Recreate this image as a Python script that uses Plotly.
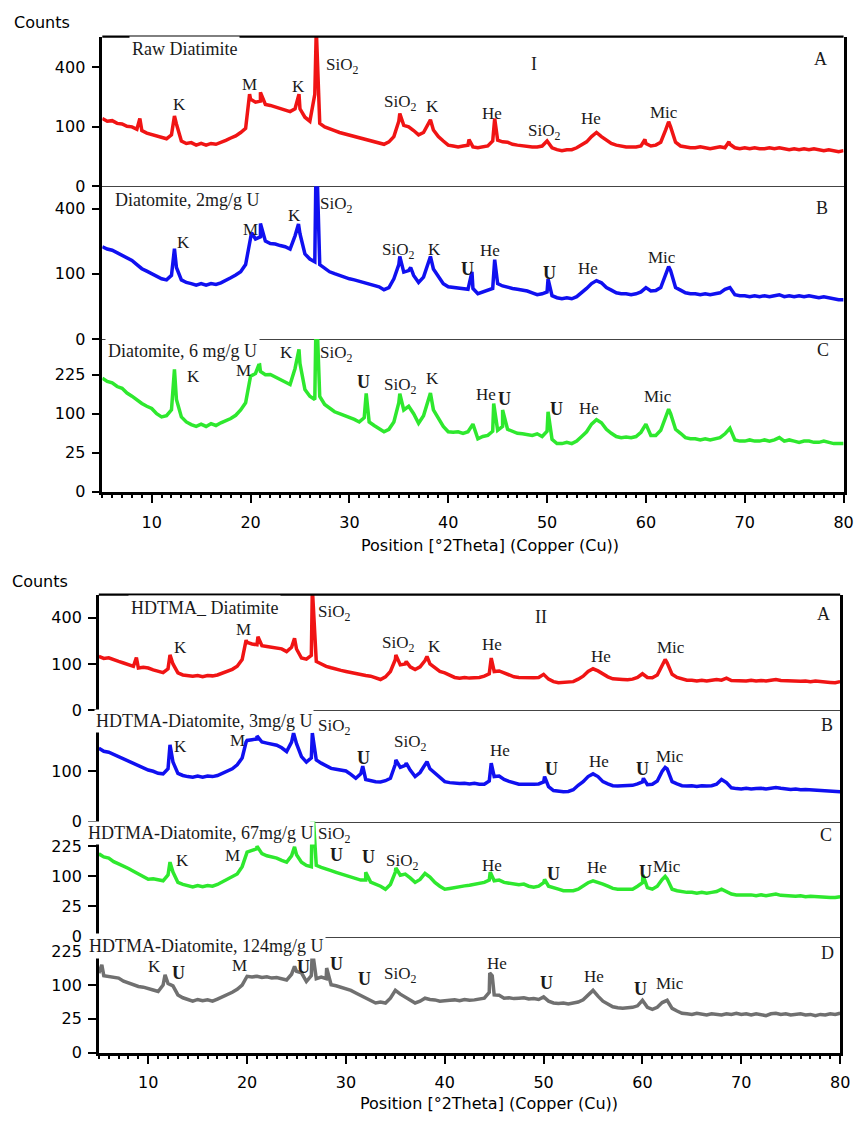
import plotly.graph_objects as go

W, H = 861, 1123

# ---------------- data (counts) ----------------
two_theta = [5 + 0.5 * i for i in range(151)]   # 5 ... 80 deg, 0.5 deg step

raw_diatomite = [
    130, 120, 122, 112, 110, 102, 100, 92, 88, 80,
    76, 70, 68, 64, 75, 110, 58, 52, 54, 48,
    52, 48, 52, 50, 56, 60, 66, 72, 82, 95,
    215, 200, 205, 190, 185, 178, 172, 165, 158, 170,
    170, 135, 120, 240, 112, 100, 95, 88, 82, 78,
    74, 70, 66, 62, 60, 56, 54, 50, 56, 70,
    120, 105, 100, 88, 75, 82, 110, 90, 70, 58,
    48, 46, 44, 46, 48, 44, 42, 44, 46, 58,
    60, 56, 55, 50, 48, 46, 45, 44, 44, 46,
    58, 42, 38, 36, 38, 38, 42, 48, 56, 70,
    82, 70, 60, 52, 48, 45, 44, 44, 44, 46,
    52, 46, 48, 55, 90, 100, 55, 46, 44, 42,
    42, 44, 42, 40, 42, 44, 42, 50, 42, 40,
    42, 40, 42, 40, 40, 42, 40, 42, 40, 38,
    40, 38, 40, 38, 40, 38, 36, 38, 36, 34,
    36]
raw_peak_x = [8.8, 12.3, 19.9, 21.0, 24.9, 26.65, 35.1, 38.2, 42.1, 44.7, 59.9, 62.3, 68.4]
raw_peak_y = [130, 140, 240, 250, 240, 700, 150, 125, 62, 130, 62, 118, 56]

u2_diatomite = [
    200, 190, 185, 175, 167, 155, 145, 130, 116, 108,
    100, 92, 85, 82, 95, 120, 82, 75, 72, 68,
    72, 68, 72, 70, 74, 80, 88, 96, 106, 130,
    240, 235, 245, 225, 214, 212, 205, 200, 190, 250,
    260, 170, 150, 140, 130, 118, 106, 100, 94, 90,
    85, 82, 78, 75, 72, 68, 64, 57, 62, 85,
    130, 105, 110, 95, 75, 90, 140, 115, 90, 72,
    64, 62, 62, 60, 58, 60, 48, 52, 55, 60,
    72, 66, 62, 60, 58, 56, 54, 50, 46, 48,
    52, 44, 40, 38, 40, 38, 42, 50, 60, 72,
    80, 74, 62, 56, 50, 48, 48, 46, 48, 52,
    62, 54, 55, 62, 100, 110, 62, 56, 50, 48,
    48, 46, 48, 46, 48, 50, 58, 62, 46, 44,
    44, 42, 44, 42, 44, 42, 44, 46, 42, 44,
    42, 44, 42, 44, 42, 40, 42, 40, 38, 36,
    36]
u2_peak_x = [12.3, 20.1, 21.0, 24.85, 26.65, 35.1, 36.2, 38.2, 42.4, 44.7, 50.1, 62.3]
u2_peak_y = [192, 265, 313, 310, 900, 160, 120, 160, 106, 148, 85, 123]

u6_diatomite = [
    212, 200, 195, 182, 176, 160, 150, 138, 128, 120,
    114, 100, 92, 95, 110, 140, 92, 80, 74, 70,
    75, 70, 76, 72, 78, 82, 88, 96, 110, 130,
    220, 230, 238, 225, 226, 215, 207, 198, 189, 250,
    270, 172, 150, 140, 149, 125, 114, 105, 100, 95,
    92, 86, 80, 90, 80, 72, 66, 59, 64, 80,
    130, 110, 120, 100, 77, 95, 140, 110, 88, 70,
    59, 58, 59, 56, 59, 75, 46, 50, 52, 60,
    62, 70, 64, 60, 56, 55, 54, 52, 55, 50,
    60, 45, 38, 38, 40, 38, 42, 50, 59, 75,
    85, 78, 64, 56, 50, 48, 49, 48, 50, 58,
    75, 52, 52, 62, 95, 100, 64, 56, 48, 46,
    46, 44, 46, 44, 46, 48, 55, 66, 44, 42,
    42, 44, 42, 42, 44, 42, 44, 48, 42, 44,
    42, 40, 42, 42, 40, 40, 42, 40, 38, 38,
    38]
u6_peak_x = [12.3, 20.9, 24.9, 26.65, 31.7, 35.1, 38.2, 44.6, 45.5, 50.1, 62.3]
u6_peak_y = [246, 272, 334, 600, 159, 158, 160, 128, 110, 105, 112]

hdtma_diatomite = [
    135, 125, 128, 118, 111, 104, 98, 90, 83, 86,
    83, 76, 70, 66, 80, 100, 65, 58, 56, 54,
    56, 52, 56, 55, 58, 64, 70, 78, 90, 120,
    215, 205, 200, 195, 190, 186, 182, 176, 161, 185,
    175, 127, 122, 140, 111, 100, 90, 84, 78, 74,
    70, 66, 62, 60, 56, 54, 50, 44, 52, 70,
    120, 96, 100, 88, 77, 88, 115, 100, 83, 70,
    65, 56, 50, 48, 50, 48, 49, 50, 54, 62,
    70, 72, 65, 60, 52, 50, 49, 48, 49, 50,
    60, 45, 38, 35, 36, 35, 38, 45, 54, 70,
    80, 72, 60, 52, 46, 44, 44, 43, 45, 50,
    62, 50, 49, 58, 95, 105, 60, 50, 45, 42,
    42, 40, 42, 40, 42, 44, 42, 48, 41, 40,
    41, 40, 42, 40, 41, 40, 42, 44, 41, 40,
    41, 40, 39, 40, 38, 40, 38, 37, 36, 35,
    38]
hd_peak_x = [8.8, 12.2, 19.9, 21.1, 24.8, 26.6, 35.05, 36.1, 38.2, 44.7, 62.3]
hd_peak_y = [130, 143, 230, 253, 242, 700, 143, 111, 135, 127, 120]

hd_u3 = [
    213, 195, 190, 178, 167, 158, 148, 135, 128, 115,
    105, 100, 92, 90, 110, 140, 92, 84, 80, 78,
    82, 78, 82, 80, 84, 92, 101, 110, 127, 160,
    260, 265, 270, 250, 243, 238, 230, 215, 194, 250,
    240, 167, 140, 160, 150, 135, 121, 112, 108, 104,
    101, 88, 74, 90, 70, 66, 63, 62, 66, 74,
    130, 116, 125, 105, 80, 95, 125, 110, 92, 75,
    63, 60, 58, 57, 58, 56, 58, 55, 55, 65,
    80, 82, 70, 64, 58, 55, 55, 54, 55, 56,
    62, 48, 38, 36, 35, 36, 40, 52, 63, 80,
    90, 80, 63, 56, 51, 50, 51, 50, 52, 56,
    62, 54, 55, 65, 100, 110, 63, 56, 51, 50,
    51, 49, 51, 50, 51, 55, 70, 60, 45, 43,
    42, 44, 42, 43, 44, 42, 44, 46, 44, 42,
    41, 42, 40, 41, 40, 39, 40, 38, 37, 36,
    35]
u3_peak_x = [12.2, 19.9, 21.0, 24.7, 26.6, 31.7, 35.05, 36.1, 38.2, 44.7, 50.1, 60.1, 62.3]
u3_peak_y = [233, 250, 290, 310, 310, 121, 150, 135, 142, 135, 80, 74, 116]

hd_u67 = [
    189, 175, 170, 155, 146, 135, 128, 118, 108, 100,
    91, 92, 88, 86, 105, 115, 81, 75, 71, 68,
    72, 69, 72, 70, 75, 82, 91, 98, 108, 135,
    197, 205, 213, 190, 180, 176, 170, 160, 153, 180,
    185, 153, 140, 135, 140, 132, 127, 120, 114, 108,
    104, 96, 91, 88, 88, 82, 76, 70, 62, 75,
    115, 104, 108, 95, 81, 90, 110, 98, 81, 70,
    62, 64, 67, 70, 71, 73, 76, 78, 81, 88,
    86, 88, 81, 78, 76, 74, 76, 70, 67, 70,
    80, 70, 67, 62, 58, 57, 58, 62, 71, 80,
    86, 82, 76, 70, 64, 62, 62, 60, 62, 70,
    80, 66, 62, 70, 90, 92, 62, 58, 55, 54,
    54, 52, 54, 52, 54, 56, 62, 55, 50, 48,
    48, 47, 48, 46, 48, 46, 47, 50, 47, 46,
    46, 45, 46, 44, 45, 44, 44, 43, 42, 42,
    44]
u67_peak_x = [12.2, 21.0, 24.8, 26.6, 32.0, 35.05, 44.6, 50.1, 60.05, 62.3]
u67_peak_y = [153, 226, 222, 500, 114, 130, 114, 90, 104, 100]

hd_u124 = [
    139, 130, 128, 124, 122, 112, 106, 100, 96, 94,
    91, 86, 82, 100, 105, 98, 73, 66, 61, 58,
    62, 59, 61, 58, 63, 68, 73, 80, 88, 100,
    128, 126, 128, 124, 126, 122, 124, 120, 116, 135,
    145, 140, 111, 130, 120, 125, 120, 101, 98, 94,
    91, 85, 78, 72, 65, 60, 54, 56, 54, 65,
    85, 75, 68, 62, 54, 58, 65, 62, 61, 58,
    58, 60, 61, 59, 62, 60, 61, 62, 65, 80,
    73, 72, 65, 66, 64, 65, 66, 63, 64, 62,
    68, 58, 54, 53, 54, 52, 54, 56, 61, 72,
    85, 70, 58, 52, 46, 44, 43, 44, 45, 48,
    60, 45, 41, 45, 55, 60, 43, 38, 34, 33,
    32, 34, 32, 31, 33, 32, 31, 33, 32, 34,
    32, 33, 31, 33, 32, 30, 33, 34, 32, 33,
    31, 32, 33, 31, 32, 30, 32, 31, 33, 32,
    34]
u124_peak_x = [5.3, 11.7, 24.8, 26.6, 28.05, 44.55, 44.8]
u124_peak_y = [169, 133, 163, 232, 157, 139, 130]

# tick labels (counts) for the square-root intensity axes
ticks_big = [0, 100, 400]
ticks_mid = [0, 100]
ticks_small = [0, 25, 100, 225]

# ---------------- figure ----------------
SERIF = "Liberation Serif, Times New Roman, serif"
SANS = "DejaVu Sans, Verdana, sans-serif"
RED, BLUE, GREEN, GRAY = "#f01414", "#1010f0", "#2ee82e", "#707070"

def px_x(p):
    return p / W

def px_y(p):
    return 1 - p / H

# subplot layout: (series, peaks x, peaks y, color, x-pixel range, y-pixel top, y-pixel zero, y range top, ticks, bottom?)
panels = [
    (raw_diatomite, raw_peak_x, raw_peak_y, RED, (103.5, 853.5), 37, 188, 25.17, ticks_big, False),
    (u2_diatomite, u2_peak_x, u2_peak_y, BLUE, (103.5, 853.5), 188, 342, 23.4, ticks_big, False),
    (u6_diatomite, u6_peak_x, u6_peak_y, GREEN, (103.5, 853.5), 342, 496, 19.6, ticks_small, True),
    (hdtma_diatomite, hd_peak_x, hd_peak_y, RED, (100, 850), 600, 716.5, 25.0, ticks_big, False),
    (hd_u3, u3_peak_x, u3_peak_y, BLUE, (100, 850), 716.5, 829, 22.15, ticks_mid, False),
    (hd_u67, u67_peak_x, u67_peak_y, GREEN, (100, 850), 829, 945, 19.1, ticks_small, False),
    (hd_u124, u124_peak_x, u124_peak_y, GRAY, (100, 850), 945, 1062, 17.2, ticks_small, True),
]

fig = go.Figure()
layout = {}
for i, (vals, pkx, pky, col, xr, ytop, yzero, rtop, tks, bottom) in enumerate(panels, start=1):
    assert len(vals) == len(two_theta)
    pts = sorted(list(zip(two_theta, vals)) + list(zip(pkx, pky)))
    xs = [p[0] for p in pts]
    ys = [p[1] ** 0.5 for p in pts]
    sfx = "" if i == 1 else str(i)
    fig.add_trace(go.Scatter(x=xs, y=ys, mode="lines",
                             line=dict(color=col, width=3.5),
                             xaxis="x" + sfx, yaxis="y" + sfx,
                             hoverinfo="skip", showlegend=False))
    xa = dict(domain=[px_x(xr[0]), px_x(xr[1])], anchor="y" + sfx, range=[5, 80],
              showgrid=False, zeroline=False, showline=True)
    if bottom:
        xa.update(linecolor="black", linewidth=2.5, ticks="outside", tickmode="linear",
                  tick0=0, dtick=10, ticklen=9, tickwidth=2, tickcolor="black",
                  minor=dict(ticks="outside", dtick=1, ticklen=4, tickwidth=1.5, tickcolor="black"),
                  showticklabels=True, ticklabelstandoff=5,
                  tickfont=dict(family=SANS, size=16, color="black"))
    else:
        xa.update(linecolor="#444444", linewidth=1.3, ticks="", showticklabels=False)
    ya = dict(domain=[px_y(yzero), px_y(ytop)], anchor="x" + sfx, range=[0, rtop],
              showgrid=False, zeroline=False, showline=True, mirror=True,
              linecolor="black", linewidth=2.5,
              tickmode="array", tickvals=[t ** 0.5 for t in tks],
              ticktext=[str(t) for t in tks], ticks="outside", ticklen=8,
              tickwidth=2, tickcolor="black", ticklabelstandoff=3,
              tickfont=dict(family=SANS, size=16, color="black"))
    layout["xaxis" + sfx] = xa
    layout["yaxis" + sfx] = ya

fig.update_layout(**layout)
fig.update_layout(width=W, height=H, margin=dict(l=0, r=0, t=0, b=0),
                  paper_bgcolor="white", plot_bgcolor="white", showlegend=False)

# top frame lines of the two panels
for (x0, x1, yt) in [(103.5, 853.5, 37), (100, 850, 600)]:
    fig.add_shape(type="line", xref="paper", yref="paper",
                  x0=px_x(x0), x1=px_x(x1), y0=px_y(yt), y1=px_y(yt),
                  line=dict(color="black", width=2.2))

def text(t, x, y, size=17, family=SERIF, bg=None, pad=1, color="#1a1a1a"):
    fig.add_annotation(x=px_x(x), y=px_y(y), xref="paper", yref="paper", text=t,
                       showarrow=False, xanchor="center", yanchor="middle",
                       font=dict(family=family, size=size, color=color),
                       bgcolor=bg, borderpad=pad)

S = "SiO<sub>2</sub>"
U = "<b>U</b>"

# axis titles
text("Counts", 42, 23, size=16, family=SANS, color="black")
text("Position [°2Theta] (Copper (Cu))", 496, 550, size=16, family=SANS, color="black")
text("Counts", 40, 587, size=16, family=SANS, color="black")
text("Position [°2Theta] (Copper (Cu))", 495, 1113, size=16, family=SANS, color="black")

# sample labels (white boxes)
text("Raw Diatimite", 187, 49, size=18, bg="white", pad=2)
text("Diatomite, 2mg/g U", 189, 202, size=18, bg="white", pad=2)
text("Diatomite, 6 mg/g U", 185, 354, size=18, bg="white", pad=2)
text("HDTMA_ Diatimite", 207, 613, size=18, bg="white", pad=2)
text("HDTMA-Diatomite, 3mg/g U", 206, 727, size=18, bg="white", pad=1)
text("HDTMA-Diatomite, 67mg/g U", 203, 840, size=18, bg="white", pad=1)
text("HDTMA-Diatomite, 124mg/g U", 208, 955, size=18, bg="white", pad=2)

# panel / subplot letters
for t, x, y in [("I", 540, 65), ("A", 830, 60), ("B", 832, 210), ("C", 833, 353),
                ("II", 547, 623), ("A", 833, 620), ("B", 837, 732), ("C", 836, 843),
                ("D", 837, 962)]:
    text(t, x, y, size=18)

# peak labels
peak_labels = [
    # panel I - A
    ("K", 182, 105), ("M", 252, 85), ("K", 302, 87), (S, 346, 67), (S, 405, 104),
    ("K", 438, 107), ("He", 498, 115), (S, 550, 133), ("He", 598, 120), ("Mic", 672, 114),
    # panel I - B
    (S, 340, 207), ("K", 186, 245), ("M", 253, 232), ("K", 298, 217), (S, 403, 253),
    ("K", 440, 252), (U, 473, 271), ("He", 496, 253), (U, 556, 275), ("He", 595, 271),
    ("Mic", 670, 260),
    # panel I - C
    ("K", 290, 356), (S, 340, 357), ("K", 196, 380), ("M", 246, 374), (U, 368, 385),
    (S, 405, 389), ("K", 438, 382), ("He", 492, 398), (U, 510, 403), (U, 563, 413),
    ("He", 596, 412), ("Mic", 666, 400),
    # panel II - A
    (S, 338, 619), ("K", 183, 653), ("M", 246, 635), (S, 403, 650), ("K", 440, 652),
    ("He", 498, 650), ("He", 608, 662), ("Mic", 679, 653),
    # panel II - B
    (S, 338, 734), ("K", 183, 753), ("M", 240, 747), (U, 368, 765), (S, 415, 750),
    ("He", 506, 757), (U, 558, 776), ("He", 606, 768), (U, 650, 776), ("Mic", 678, 763),
    # panel II - C
    (S, 338, 843), ("K", 185, 868), ("M", 235, 863), (U, 340, 863), (U, 373, 865),
    (S, 407, 870), ("He", 498, 873), (U, 560, 882), ("He", 604, 875), (U, 653, 880),
    ("Mic", 675, 874),
    # panel II - D
    ("K", 156, 975), (U, 181, 982), ("M", 242, 974), (U, 307, 976), (U, 340, 973),
    (U, 369, 988), (S, 405, 984), ("He", 503, 972), (U, 553, 992), ("He", 601, 985),
    (U, 648, 998), ("Mic", 678, 992),
]
for t, x, y in peak_labels:
    text(t, x, y, size=18 if t == U else 17)

fig.write_html("out.html")
